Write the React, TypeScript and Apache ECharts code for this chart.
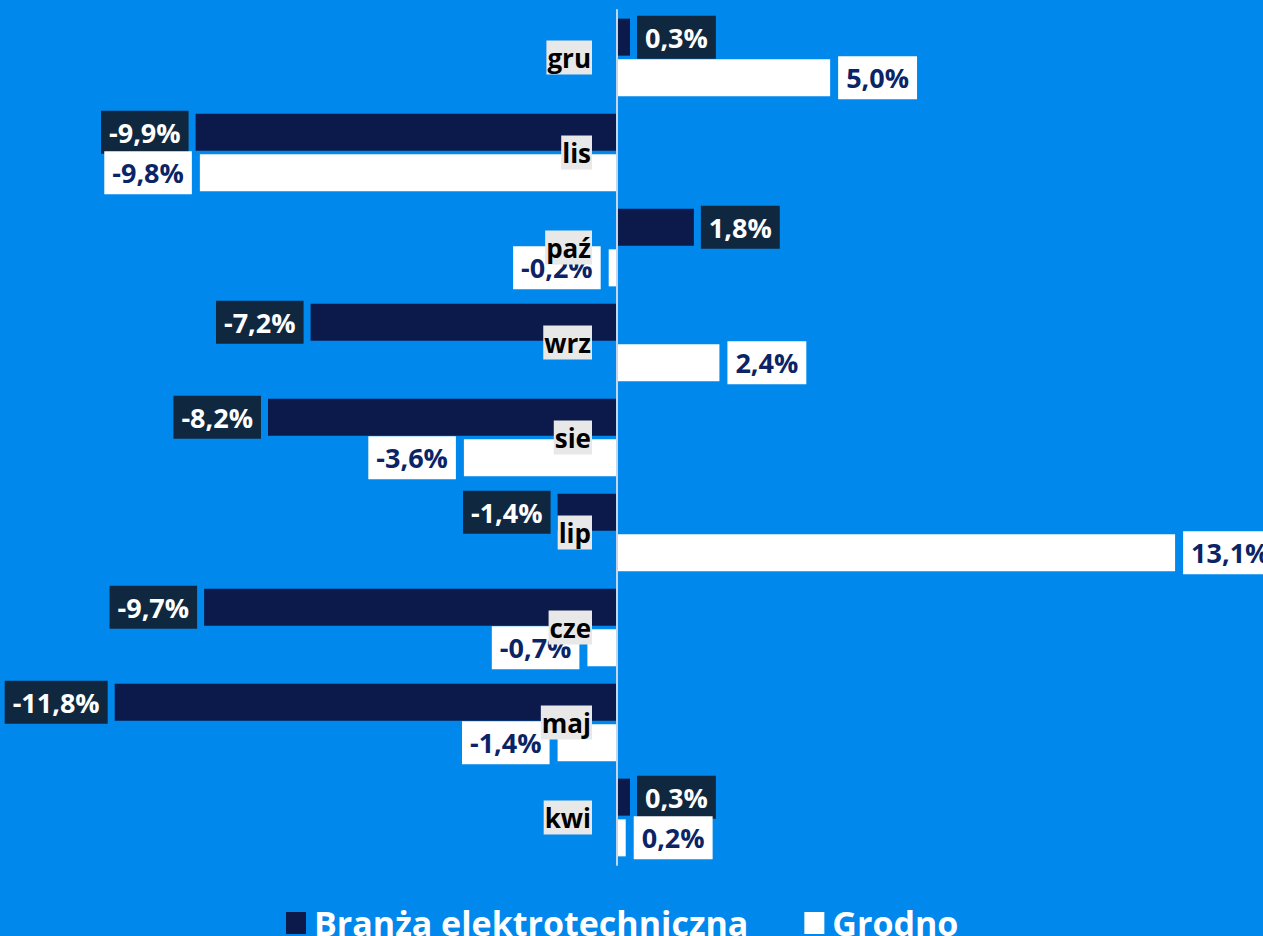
import React, { useEffect, useRef } from "react";
import * as echarts from "echarts";

const categories = ["gru", "lis", "paź", "wrz", "sie", "lip", "cze", "maj", "kwi"];
const branzaValues = [0.3, -9.9, 1.8, -7.2, -8.2, -1.4, -9.7, -11.8, 0.3];
const grodnoValues = [5.0, -9.8, -0.2, 2.4, -3.6, 13.1, -0.7, -1.4, 0.2];
const seriesNames = ["Branża elektrotechniczna", "Grodno"];

const FONT = "'Open Sans', 'DejaVu Sans', sans-serif";
const BG = "#0088ec";
const DARK = "#0b1a4b";
const DARK_LABEL = "#0f2840";
const NAVY_TEXT = "#0b2466";

const GRID_LEFT = 21;
const LABEL_RIGHT = 592;

const fmt = (v: number) => v.toFixed(1).replace(".", ",") + "%";

export default function App() {
  const ref = useRef<HTMLDivElement>(null);
  useEffect(() => {
    document.body.style.margin = "0";
    const chart = echarts.init(ref.current!, undefined, { renderer: "svg" });
    const mk = (vals: number[]) =>
      vals.map((v) => ({
        value: v,
        label: { position: v < 0 ? "left" : "right" },
      }));
    const valueLabel = {
      show: true,
      formatter: (p: any) => fmt(p.value),
      fontFamily: FONT,
      fontWeight: 700,
      fontSize: 27,
      padding: [7, 8, 6, 8],
      lineHeight: 30,
    };
    chart.setOption({
      animation: false,
      backgroundColor: BG,
      grid: {
        left: GRID_LEFT,
        width: 1235,
        top: 10,
        height: 855,
        containLabel: false,
        outerBoundsMode: "none",
      },
      xAxis: {
        type: "value",
        min: -14,
        max: 15,
        axisLine: { show: false },
        axisTick: { show: false },
        axisLabel: { show: false },
        splitLine: { show: false },
      },
      yAxis: {
        type: "category",
        inverse: true,
        data: categories,
        z: 10,
        axisLine: { show: true, onZero: true, lineStyle: { color: "#c4d6ee", width: 2 } },
        axisTick: { show: false },
        axisLabel: {
          margin: GRID_LEFT - LABEL_RIGHT,
          hideOverlap: false,
          color: "#000",
          fontFamily: FONT,
          fontWeight: 700,
          fontSize: 26,
          backgroundColor: "#e8e8e8",
          padding: [2, 1, 2, 1],
          lineHeight: 30,
        },
      },
      legend: {
        top: 901,
        left: 281,
        itemWidth: 20,
        itemHeight: 22,
        itemGap: 56,
        icon: "rect",
        textStyle: {
          color: "#fff",
          fontFamily: FONT,
          fontWeight: 700,
          fontSize: 34,
          lineHeight: 34,
          padding: [0, 0, 0, 3],
        },
        data: seriesNames,
      },
      series: [
        {
          name: seriesNames[0],
          type: "bar",
          data: mk(branzaValues),
          barWidth: 37,
          barGap: "10%",
          itemStyle: { color: DARK },
          label: {
            ...valueLabel,
            distance: 7,
            color: "#fff",
            backgroundColor: DARK_LABEL,
          },
        },
        {
          name: seriesNames[1],
          type: "bar",
          data: mk(grodnoValues),
          barWidth: 37,
          itemStyle: { color: "#ffffff" },
          label: {
            ...valueLabel,
            distance: 8,
            color: NAVY_TEXT,
            backgroundColor: "#ffffff",
          },
        },
      ],
    });
    return () => chart.dispose();
  }, []);
  return (
    <div
      ref={ref}
      style={{ position: "fixed", left: 0, top: 0, width: 1263, height: 936, background: BG }}
    />
  );
}
